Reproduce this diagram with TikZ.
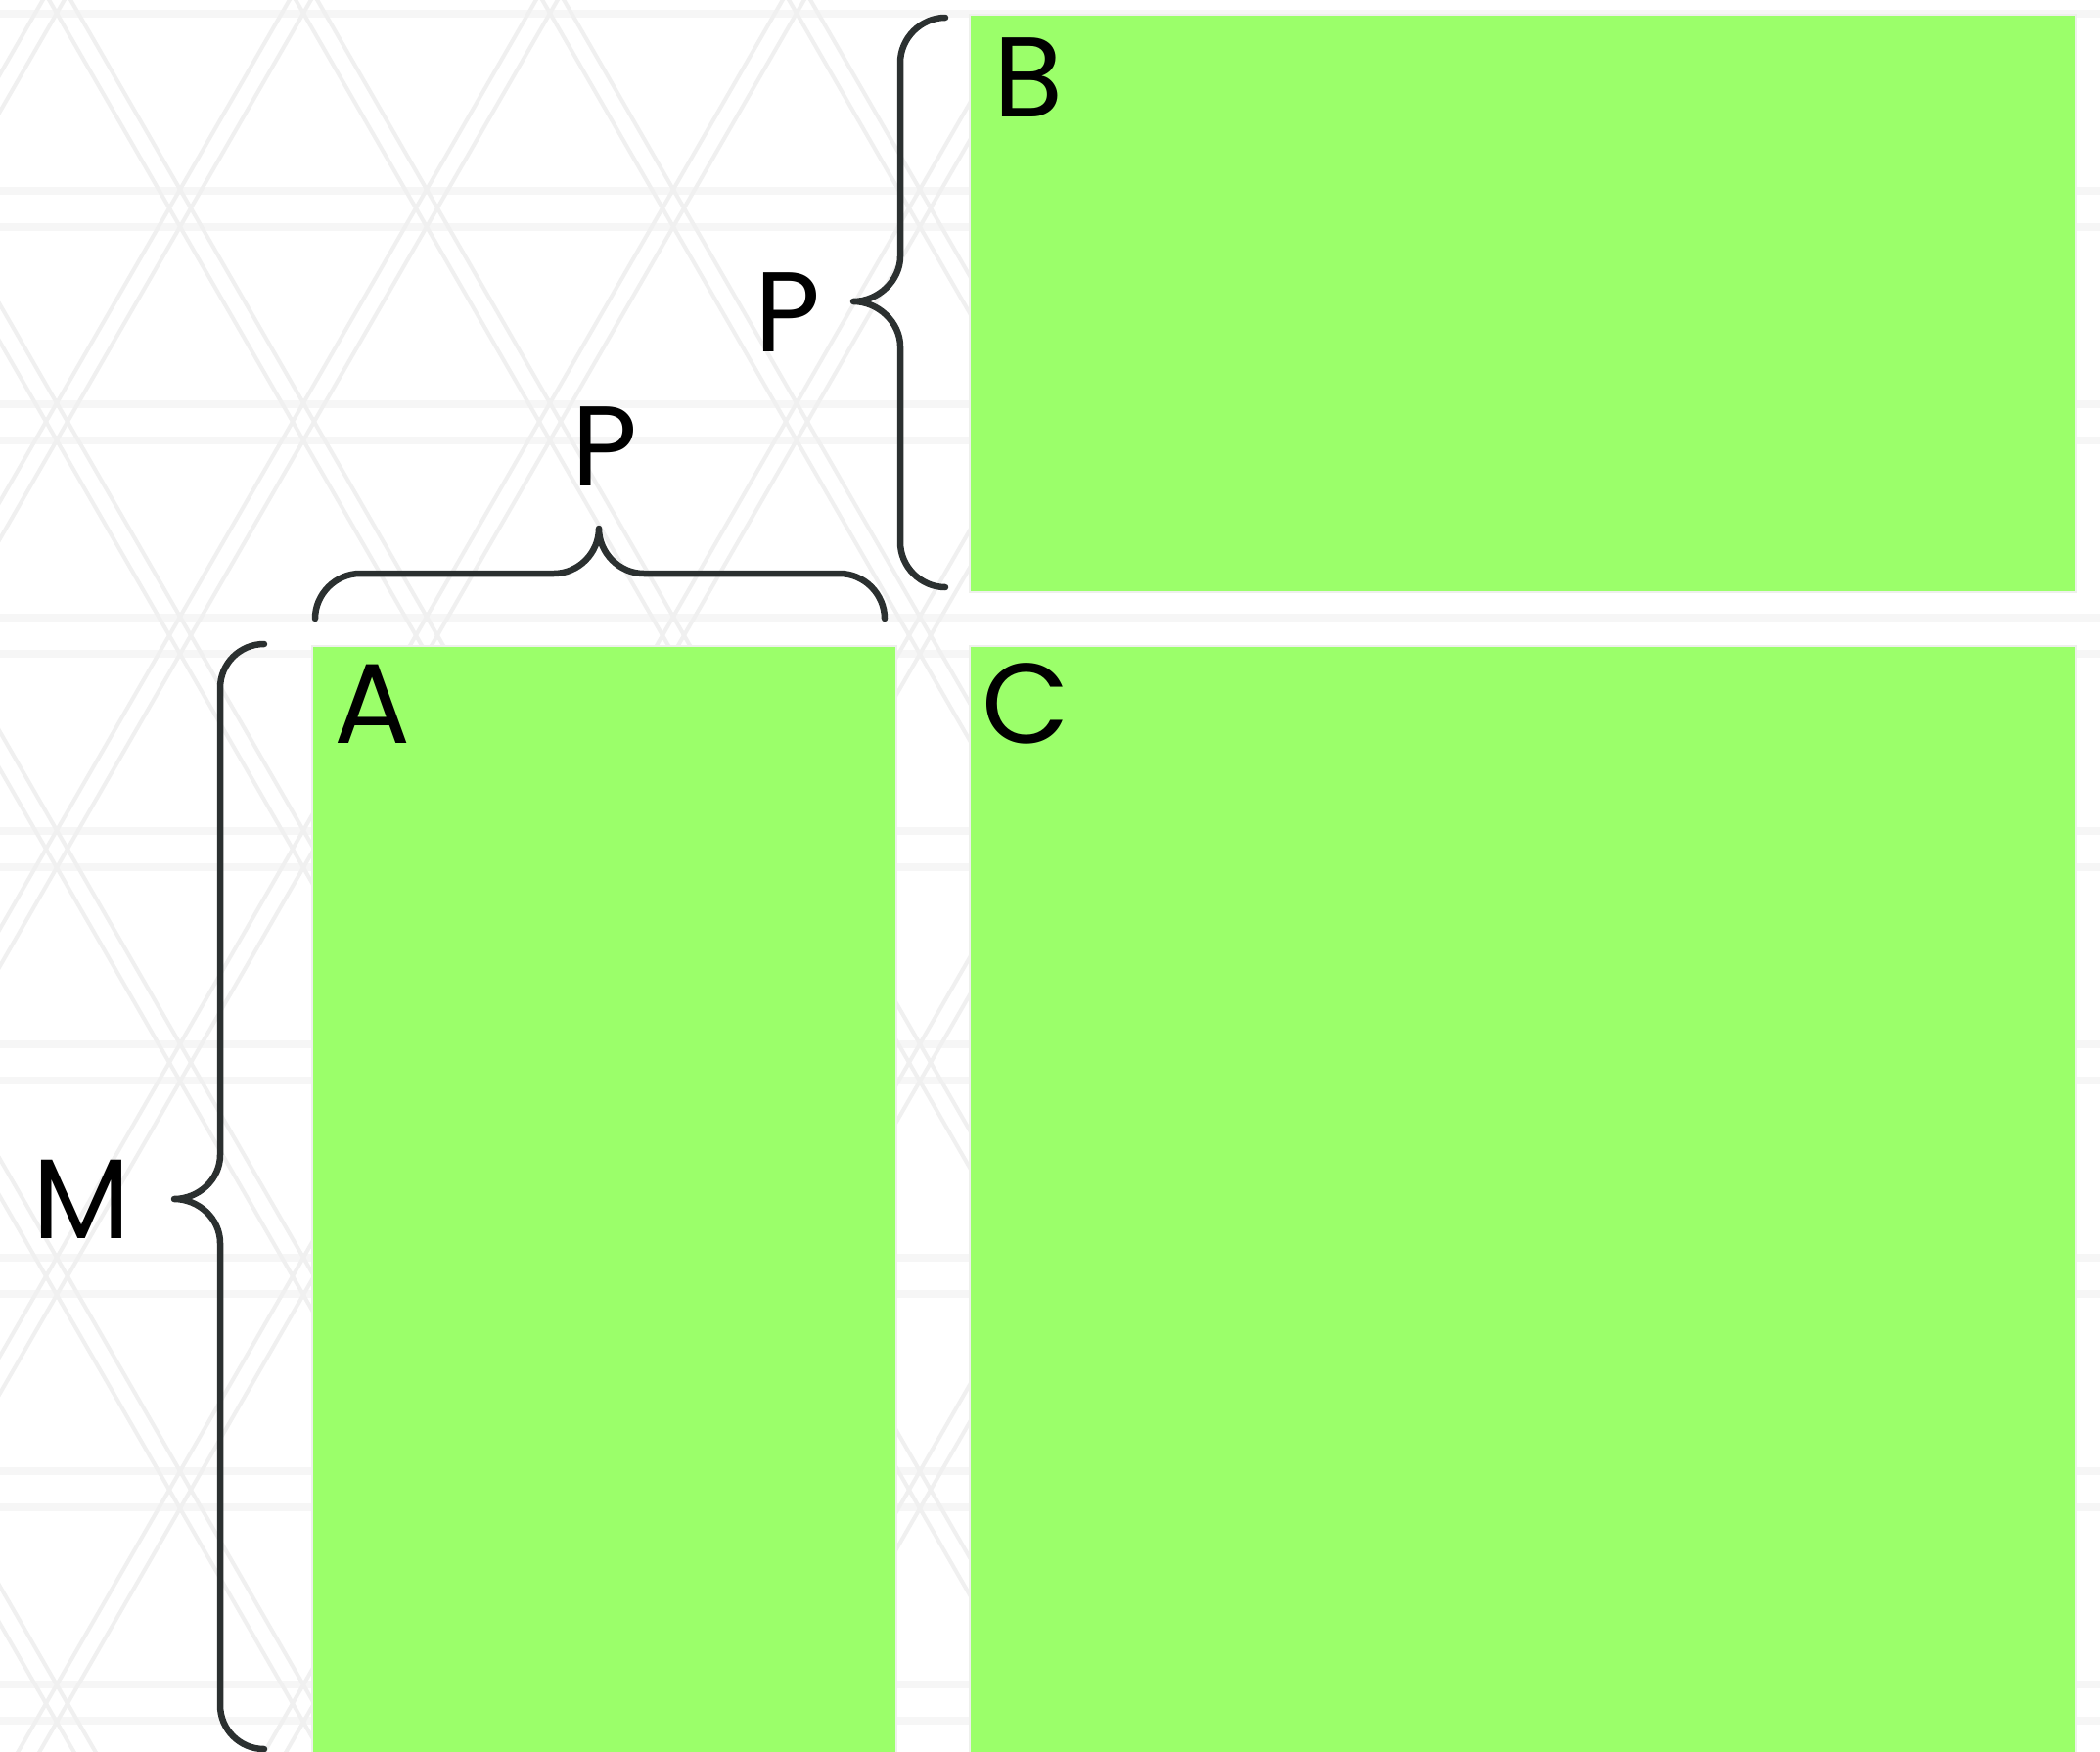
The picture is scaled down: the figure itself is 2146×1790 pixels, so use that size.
\documentclass[tikz,border=0pt]{standalone}
\usepackage{fontspec}
\setmainfont{Poppins}
\definecolor{boxgreen}{RGB}{155,255,106}
\definecolor{boxedge}{RGB}{238,240,236}
\definecolor{bracecol}{RGB}{43,48,48}
\definecolor{bandcol}{RGB}{246,246,246}
\definecolor{diagcol}{RGB}{240,240,240}
\begin{document}
\begin{tikzpicture}[x=1pt,y=-1pt,
  box/.style={fill=boxgreen, draw=boxedge, line width=2pt, inner sep=0pt, outer sep=0pt, anchor=north west},
  lbl/.style={inner sep=0pt, outer sep=0pt, anchor=base, text=black, font=\fontsize{116}{116}\selectfont},
  brace/.style={draw=bracecol, line width=6.5pt, line cap=round, line join=round},
  band/.style={draw=bandcol, line width=8pt},
  diag/.style={draw=diagcol, line width=4pt}]
\useasboundingbox (0,0) rectangle (2146,1790);
\fill[white] (0,0) rectangle (2146,1790);
% faint background pattern
\foreach \y in {-23,195,413,631,849,1067,1285,1503,1721} {
  \draw[band] (0,\y) -- (2146,\y);
  \draw[band] (0,\y+37) -- (2146,\y+37);
}
\begin{scope}
\clip (0,0) rectangle (990,1790);
\foreach \k in {-5,...,4} {
  \pgfmathsetmacro\c{61.2+252*\k}
  \draw[diag] (\c-11.5-11,-20) -- (\c+1045-11,1810);
  \draw[diag] (\c-11.5+11,-20) -- (\c+1045+11,1810);
}
\foreach \k in {-3,...,5} {
  \pgfmathsetmacro\c{558.8+252*\k}
  \draw[diag] (\c+11.5-11,-20) -- (\c-1045-11,1810);
  \draw[diag] (\c+11.5+11,-20) -- (\c-1045+11,1810);
}
\end{scope}
% boxes
\node[box, minimum width=1130pt, minimum height=590pt] (B) at (991,15) {};
\node[box, minimum width=597pt, minimum height=1140pt] (A) at (319,660) {};
\node[box, minimum width=1130pt, minimum height=1140pt] (C) at (991,660) {};
% labels
\node[lbl] (labB) at (1051,120) {B};
\node[lbl] (labA) at (381,759) {A};
\node[lbl] (labC) at (1048,759) {C};
\node[lbl] (labP1) at (805,359) {P};
\node[lbl] (labP2) at (618,496) {P};
\node[lbl] (labM) at (83,1265) {M};
% braces
\coordinate (b1s) at (966,18);
\coordinate (b1t) at (872,308);
\coordinate (b1e) at (966,600);
\draw[brace] (b1s) .. controls (941,18) and (920,39) .. (920,64)
  -- (920,262) .. controls (920,287) and (897,308) .. (b1t)
  .. controls (897,308) and (920,329) .. (920,354)
  -- (920,554) .. controls (920,579) and (941,600) .. (b1e);
\coordinate (b2s) at (322,632);
\coordinate (b2t) at (612,540);
\coordinate (b2e) at (904,632);
\draw[brace] (b2s) .. controls (322,607) and (343,586) .. (368,586)
  -- (566,586) .. controls (591,586) and (612,565) .. (b2t)
  .. controls (612,565) and (633,586) .. (658,586)
  -- (858,586) .. controls (883,586) and (904,607) .. (b2e);
\coordinate (b3s) at (270,658);
\coordinate (b3t) at (178,1225);
\coordinate (b3e) at (270,1787);
\draw[brace] (b3s) .. controls (245,658) and (225,678) .. (225,703)
  -- (225,1180) .. controls (225,1205) and (203,1225) .. (b3t)
  .. controls (203,1225) and (225,1245) .. (225,1270)
  -- (225,1742) .. controls (225,1767) and (245,1787) .. (b3e);
\end{tikzpicture}
\end{document}
